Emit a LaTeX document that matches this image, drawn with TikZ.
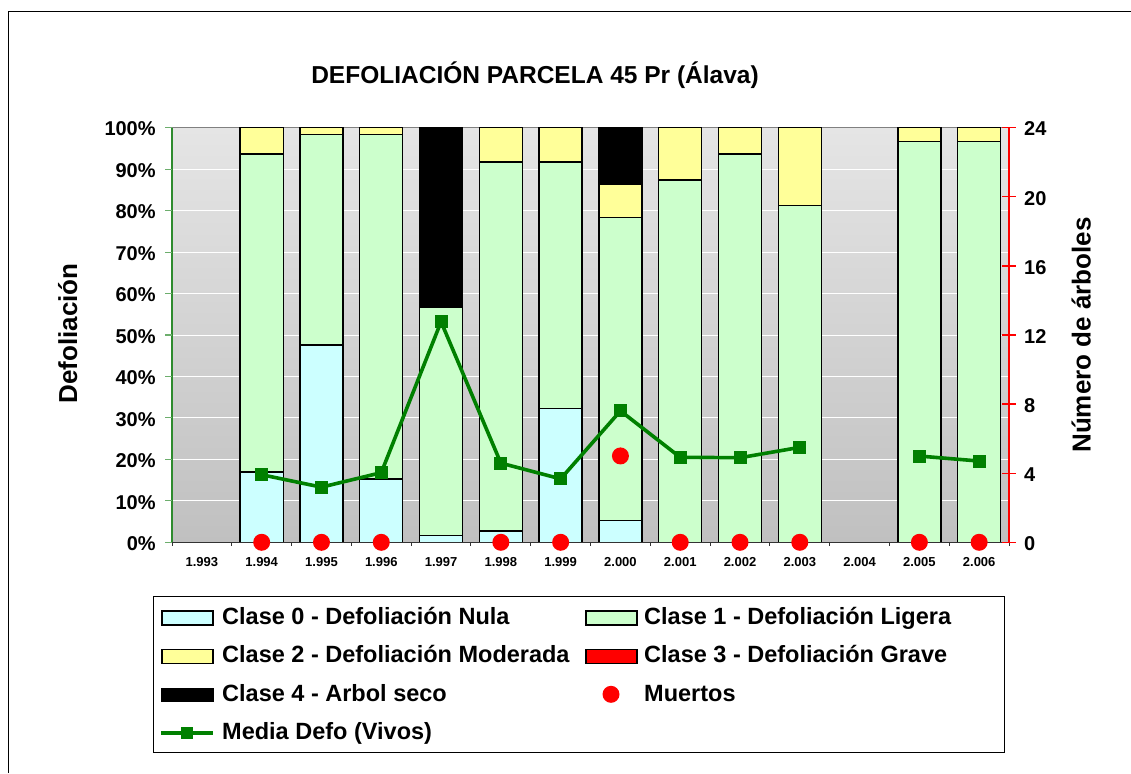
\documentclass[tikz,border=0pt]{standalone}
\usepackage{fontspec}
\setmainfont{Liberation Sans}
\definecolor{cnula}{HTML}{CCFFFF}
\definecolor{cligera}{HTML}{CCFFCC}
\definecolor{cmod}{HTML}{FFFF99}
\definecolor{cgrave}{HTML}{FF0000}
\definecolor{cmedia}{HTML}{008000}
\definecolor{bgtop}{HTML}{E5E5E5}
\definecolor{bgbot}{HTML}{C0C0C0}
\definecolor{axgreen}{HTML}{2E8B2E}
\newcommand\barpart[4]{\filldraw[barseg,fill=#4] ({#1+0.5-0.36},#2) rectangle ({#1+0.5+0.36},#3);}
\begin{document}
\begin{tikzpicture}[x=1pt,y=-1pt,
  barseg/.style={draw=black,line width=1.4pt},
  ticklbl/.style={font=\bfseries\fontsize{20}{24}\selectfont,inner sep=0pt},
  catlbl/.style={font=\bfseries\fontsize{13}{15}\selectfont,inner sep=0pt},
  axtitle/.style={font=\bfseries\fontsize{26}{30}\selectfont,inner sep=0pt},
  leglbl/.style={font=\bfseries\fontsize{23.5}{28}\selectfont,inner sep=0pt,anchor=base west},
  swatch/.style={draw=black,line width=1.2pt},
  msq/.style={rectangle,fill=cmedia,minimum size=13pt,inner sep=0pt},
  deaddot/.style={circle,fill=red,minimum size=17pt,inner sep=0pt},
  medialine/.style={cmedia,line width=3.6pt}]
\useasboundingbox (0,0) rectangle (1131,773);
\fill[white] (0,0) rectangle (1131,773);
% outer frame
\draw[line width=1.3pt] (8.5,773) -- (8.5,11.5) -- (1131,11.5);
% title
\node[font=\bfseries\fontsize{24.5}{28}\selectfont,inner sep=0pt,anchor=base] (title) at (535,83.3) {DEFOLIACIÓN PARCELA 45 Pr (Álava)};
% axis titles
\node[axtitle,rotate=90,anchor=base] (ytitle) at (77,333.5) {Defoliación};
\node[axtitle,rotate=90,anchor=base] (y2title) at (1090.7,335) {Número de árboles};
\begin{scope}[shift={(172,542.3)},x=59.79pt,y=4.146pt]
  \shade[top color=bgtop,bottom color=bgbot] (0,0) rectangle (14,100);
  \foreach \v in {10,20,...,90} \draw[white,line width=0.9pt] (0,\v) -- (14,\v);
  \draw[gray,line width=1.2pt] (0,100) -- (14,100);
  % bars
  \barpart{1}{0}{17}{cnula}\barpart{1}{17}{93.7}{cligera}\barpart{1}{93.7}{100}{cmod}
  \barpart{2}{0}{47.6}{cnula}\barpart{2}{47.6}{98.3}{cligera}\barpart{2}{98.3}{100}{cmod}
  \barpart{3}{0}{15.3}{cnula}\barpart{3}{15.3}{98.3}{cligera}\barpart{3}{98.3}{100}{cmod}
  \barpart{4}{0}{1.6}{cnula}\barpart{4}{1.6}{56.7}{cligera}\barpart{4}{56.7}{100}{black}
  \barpart{5}{0}{2.7}{cnula}\barpart{5}{2.7}{91.7}{cligera}\barpart{5}{91.7}{100}{cmod}
  \barpart{6}{0}{32.3}{cnula}\barpart{6}{32.3}{91.7}{cligera}\barpart{6}{91.7}{100}{cmod}
  \barpart{7}{0}{5.2}{cnula}\barpart{7}{5.2}{78.3}{cligera}\barpart{7}{78.3}{86.4}{cmod}\barpart{7}{86.4}{100}{black}
  \barpart{8}{0}{87.4}{cligera}\barpart{8}{87.4}{100}{cmod}
  \barpart{9}{0}{93.7}{cligera}\barpart{9}{93.7}{100}{cmod}
  \barpart{10}{0}{81.2}{cligera}\barpart{10}{81.2}{100}{cmod}
  \barpart{12}{0}{96.6}{cligera}\barpart{12}{96.6}{100}{cmod}
  \barpart{13}{0}{96.6}{cligera}\barpart{13}{96.6}{100}{cmod}
  % axes
  \draw[axgreen,line width=1.2pt] (0,0) -- (0,100);
  \foreach \v in {0,10,...,100} {
    \draw[axgreen!70,line width=1.1pt] (-0.117,\v) -- (0,\v);
    \node[ticklbl,anchor=base east] (yl\v) at (-0.27,\v-2) {\v\%};
  }
  \draw[black!80,line width=1.2pt] (0,0) -- (14,0);
  \foreach \i in {0,...,14} \draw[black!80,line width=1pt] (\i,0) -- (\i,-1);
  \foreach \i/\yr in {0/1.993,1/1.994,2/1.995,3/1.996,4/1.997,5/1.998,6/1.999,7/2.000,8/2.001,9/2.002,10/2.003,11/2.004,12/2.005,13/2.006}
    \node[catlbl,anchor=base] (xl\i) at (\i+0.5,-5.88) {\yr};
  \draw[red,line width=1.3pt] (14,0) -- (14,100);
  \foreach \n in {0,4,...,24} {
    \draw[red,line width=1.3pt] (13.883,{\n*100/24}) -- (14.117,{\n*100/24});
    \node[ticklbl,anchor=base west] (rl\n) at (14.25,{\n*100/24-2}) {\n};
  }
  % media defo
  \node[msq] (m1) at (1.5,16.3) {};
  \node[msq] (m2) at (2.5,13.3) {};
  \node[msq] (m3) at (3.5,16.8) {};
  \node[msq] (m4) at (4.5,53.2) {};
  \node[msq] (m5) at (5.5,19.1) {};
  \node[msq] (m6) at (6.5,15.3) {};
  \node[msq] (m7) at (7.5,31.7) {};
  \node[msq] (m8) at (8.5,20.5) {};
  \node[msq] (m9) at (9.5,20.4) {};
  \node[msq] (m10) at (10.5,22.9) {};
  \node[msq] (m12) at (12.5,20.8) {};
  \node[msq] (m13) at (13.5,19.6) {};
  \draw[medialine] (m1.center) -- (m2.center) -- (m3.center) -- (m4.center) -- (m5.center) -- (m6.center) -- (m7.center) -- (m8.center) -- (m9.center) -- (m10.center);
  \draw[medialine] (m12.center) -- (m13.center);
  % muertos
  \foreach \i in {1,2,3,5,6,8,9,10,12,13} \node[deaddot] (d\i) at (\i+0.5,0) {};
  \node[deaddot] (d7) at (7.5,{5*100/24}) {};
\end{scope}
% legend
\draw[black,line width=1pt] (153,596) rectangle (1004,752);
\draw[swatch,fill=cnula] (162,611) rectangle (213,625);
\node[leglbl] (lg0) at (222,624.3) {Clase 0 - Defoliación Nula};
\draw[swatch,fill=cligera] (586,611) rectangle (637,625);
\node[leglbl] (lg1) at (644,624.3) {Clase 1 - Defoliación Ligera};
\draw[swatch,fill=cmod] (162,649.3) rectangle (213,663.3);
\node[leglbl] (lg2) at (222,662.6) {Clase 2 - Defoliación Moderada};
\draw[swatch,fill=cgrave] (586,649.3) rectangle (637,663.3);
\node[leglbl] (lg3) at (644,662.6) {Clase 3 - Defoliación Grave};
\fill[black] (161,687.6) rectangle (214,701.6);
\node[leglbl] (lg4) at (222,701) {Clase 4 - Arbol seco};
\node[deaddot] (lgdot) at (611,694.3) {};
\node[leglbl] (lg5) at (644,701) {Muertos};
\coordinate (lma) at (161,732.7);
\coordinate (lmb) at (213,732.7);
\draw[medialine] (lma) -- (lmb);
\node[msq,minimum size=12pt] (lgm) at (187,732.7) {};
\node[leglbl] (lg6) at (222,739.3) {Media Defo (Vivos)};
\end{tikzpicture}
\end{document}
